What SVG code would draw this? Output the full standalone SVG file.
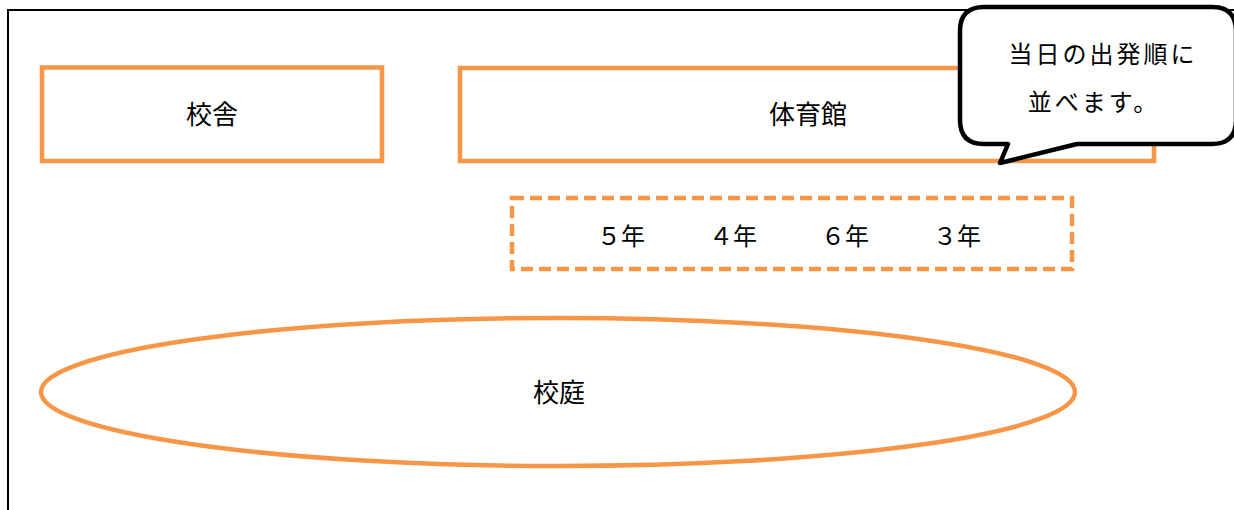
<svg xmlns="http://www.w3.org/2000/svg" width="1234" height="510" viewBox="0 0 1234 510">
<style>
.box{fill:#fff;stroke:#F79646;stroke-width:4.5}
.dash{fill:none;stroke:#F79646;stroke-width:4.5;stroke-dasharray:12 6}
.lbl{font-family:"Noto Sans CJK JP","Noto Sans",sans-serif;font-size:26px;fill:#000;text-anchor:middle}
.yr{font-family:"Noto Sans CJK JP","Noto Sans",sans-serif;font-size:24px;fill:#000;text-anchor:middle}
.cl{font-family:"Noto Sans CJK JP",sans-serif;font-size:24px;fill:#000;text-anchor:middle;letter-spacing:3px}
</style>
<rect width="1234" height="510" fill="#fff"/>
<path d="M8,510 V10 H1234" fill="none" stroke="#000" stroke-width="2"/>
<g id="kousha">
<rect class="box" x="42" y="67.5" width="340" height="93.5"/>
<text class="lbl" x="212" y="124">校舎</text>
</g>
<g id="taiikukan">
<rect class="box" x="460" y="68" width="694" height="93"/>
<text class="lbl" x="808" y="124">体育館</text>
</g>
<g id="order">
<rect class="dash" x="512" y="198" width="560" height="71"/>
<text class="yr" x="621" y="245">５年</text>
<text class="yr" x="733" y="245">４年</text>
<text class="yr" x="845" y="245">６年</text>
<text class="yr" x="957" y="245">３年</text>
</g>
<g id="koutei">
<ellipse cx="558" cy="392" rx="517" ry="74" fill="none" stroke="#F79646" stroke-width="4.5"/>
<text class="lbl" x="559" y="402">校庭</text>
</g>
<g id="callout">
<path d="M984,7 H1212 Q1236,7 1236,31 V120 Q1236,144 1212,144 H1077 L1000,163 L1008,144 H984 Q960,144 960,120 V31 Q960,7 984,7 Z" fill="#fff" stroke="#000" stroke-width="4.5" stroke-linejoin="round"/>
<text class="cl" x="1103" y="63">当日の出発順に</text>
<text class="cl" x="1094" y="111">並べます。</text>
</g>
</svg>
